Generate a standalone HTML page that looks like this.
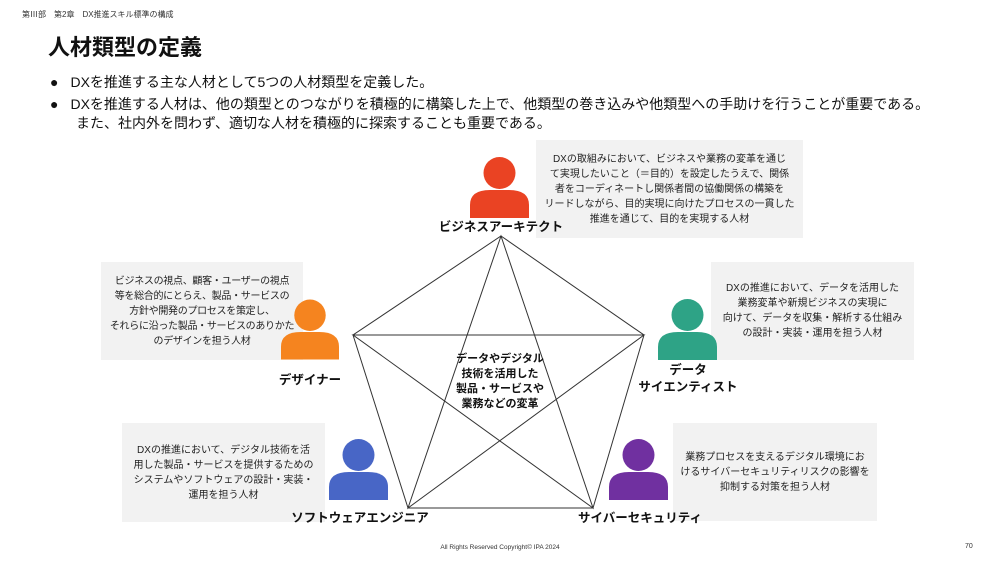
<!DOCTYPE html>
<html><head><meta charset="utf-8"><style>
*{margin:0;padding:0;box-sizing:border-box}
body{width:1000px;height:563px;background:#fff;position:relative;overflow:hidden;font-family:"Liberation Sans","Noto Sans CJK JP",sans-serif;color:#111}
.a{position:absolute;white-space:nowrap}
.box{position:absolute;background:#f2f2f2;font-size:10px;line-height:15px;text-align:center;display:flex;align-items:center;justify-content:center;color:#222;white-space:nowrap}
.lb{position:absolute;font-weight:bold;font-size:12.5px;text-align:center;white-space:nowrap;line-height:17px}
</style></head><body>
<div class="a" style="left:22px;top:9px;font-size:8px;color:#333">第Ⅲ部　第2章　DX推進スキル標準の構成</div>
<div class="a" style="left:48px;top:30px;font-size:22px;font-weight:bold">人材類型の定義</div>
<div class="a" style="left:50px;top:73px;font-size:14px;line-height:19px">●<span style="margin-left:12px">DXを推進する主な人材として5つの人材類型を定義した。</span></div>
<div class="a" style="left:50px;top:95px;font-size:14px;line-height:19px">●<span style="margin-left:12px">DXを推進する人材は、他の類型とのつながりを積極的に構築した上で、他類型の巻き込みや他類型への手助けを行うことが重要である。</span></div>
<div class="a" style="left:76px;top:114px;font-size:14px;line-height:19px">また、社内外を問わず、適切な人材を積極的に探索することも重要である。</div>

<div class="box" style="left:536px;top:140px;width:267px;height:98px">DXの取組みにおいて、ビジネスや業務の変革を通じ<br>て実現したいこと（＝目的）を設定したうえで、関係<br>者をコーディネートし関係者間の協働関係の構築を<br>リードしながら、目的実現に向けたプロセスの一貫した<br>推進を通じて、目的を実現する人材</div>
<div class="box" style="left:711px;top:262px;width:203px;height:98px">DXの推進において、データを活用した<br>業務変革や新規ビジネスの実現に<br>向けて、データを収集・解析する仕組み<br>の設計・実装・運用を担う人材</div>
<div class="box" style="left:101px;top:262px;width:202px;height:98px;letter-spacing:-0.3px">ビジネスの視点、顧客・ユーザーの視点<br>等を総合的にとらえ、製品・サービスの<br>方針や開発のプロセスを策定し、<br>それらに沿った製品・サービスのありかた<br>のデザインを担う人材</div>
<div class="box" style="left:122px;top:423px;width:203px;height:99px">DXの推進において、デジタル技術を活<br>用した製品・サービスを提供するための<br>システムやソフトウェアの設計・実装・<br>運用を担う人材</div>
<div class="box" style="left:673px;top:423px;width:204px;height:98px">業務プロセスを支えるデジタル環境にお<br>けるサイバーセキュリティリスクの影響を<br>抑制する対策を担う人材</div>

<svg class="a" style="left:0;top:0" width="1000" height="563">
<g fill="none" stroke="#333" stroke-width="1">
<polygon points="501,236 644,335 593,508 408,508 353,335"/>
<polygon points="501,236 593,508 353,335 644,335 408,508"/>
</g>
<defs><symbol id="p" viewBox="0 0 59 61"><circle cx="29.5" cy="16" r="16"/><path d="M0,61 V48 Q0,33 20,33 H39 Q59,33 59,48 V61 Z"/></symbol></defs>
<use href="#p" x="470" y="157" width="59" height="61" fill="#ea4323"/>
<use href="#p" x="281" y="299" width="58" height="61" fill="#f5841f"/>
<use href="#p" x="658" y="299" width="59" height="61" fill="#2ea386"/>
<use href="#p" x="329" y="439" width="59" height="61" fill="#4866c6"/>
<use href="#p" x="609" y="439" width="59" height="61" fill="#7030a0"/>
</svg>
<div class="lb" style="left:421px;top:219px;width:160px">ビジネスアーキテクト</div>
<div class="lb" style="left:250px;top:372px;width:120px">デザイナー</div>
<div class="lb" style="left:618px;top:362px;width:140px">データ<br>サイエンティスト</div>
<div class="lb" style="left:280px;top:510px;width:160px">ソフトウェアエンジニア</div>
<div class="lb" style="left:560px;top:510px;width:160px">サイバーセキュリティ</div>
<div class="lb" style="left:430px;top:352px;width:140px;font-size:11px;line-height:15px">データやデジタル<br>技術を活用した<br>製品・サービスや<br>業務などの変革</div>
<div class="a" style="left:400px;top:544px;width:200px;text-align:center;font-size:6.5px;color:#333">All Rights Reserved Copyright© IPA 2024</div>
<div class="a" style="left:965px;top:543px;font-size:7px;color:#333">70</div>
</body></html>
